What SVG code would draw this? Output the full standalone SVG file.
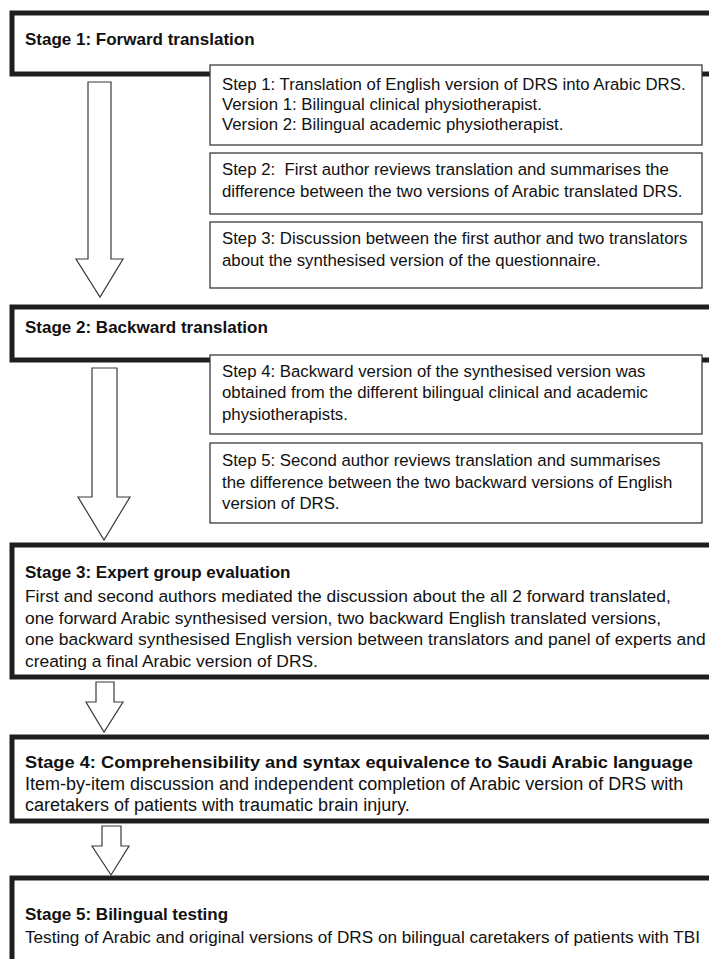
<svg xmlns="http://www.w3.org/2000/svg" width="709" height="959" viewBox="0 0 709 959">
<style>
.stage{fill:#fff;stroke:#1e1e1e;stroke-width:5}
.step{fill:#fff;stroke:#3a3a3a;stroke-width:1.3}
.arrow{fill:#fff;stroke:#3a3a3a;stroke-width:1.2;stroke-linejoin:miter}
text{font-family:"Liberation Sans",Arial,Helvetica,sans-serif;fill:#111}
.t{font-size:17px;font-weight:bold}
.b{font-size:17.4px}
.b4{font-size:18px}
.s{font-size:16.8px}
</style>
<rect width="709" height="959" fill="#fff"/>
<g id="stage1">
<rect class="stage" x="12" y="13" width="720" height="61"/>
<text class="t" x="25" y="45">Stage 1: Forward translation</text>
</g>
<g id="stage2">
<rect class="stage" x="12" y="307" width="720" height="53"/>
<text class="t" x="25" y="333">Stage 2: Backward translation</text>
</g>
<g id="stage3">
<rect class="stage" x="12" y="545" width="720" height="132"/>
<text class="t" x="25" y="578">Stage 3: Expert group evaluation</text>
<text class="b" x="25" y="602">First and second authors mediated the discussion about the all 2 forward translated,</text>
<text class="b" x="25" y="623.5">one forward Arabic synthesised version, two backward English translated versions,</text>
<text class="b" x="25" y="645">one backward synthesised English version between translators and panel of experts and</text>
<text class="b" x="25" y="667">creating a final Arabic version of DRS.</text>
</g>
<g id="stage4">
<rect class="stage" x="12" y="737" width="720" height="84"/>
<text class="t" x="25" y="768" textLength="668" lengthAdjust="spacingAndGlyphs">Stage 4: Comprehensibility and syntax equivalence to Saudi Arabic language</text>
<text class="b4" x="25" y="790">Item-by-item discussion and independent completion of Arabic version of DRS with</text>
<text class="b4" x="25" y="811">caretakers of patients with traumatic brain injury.</text>
</g>
<g id="stage5">
<rect class="stage" x="12" y="878" width="720" height="120"/>
<text class="t" x="25" y="920">Stage 5: Bilingual testing</text>
<text class="b" x="25" y="943" textLength="675" lengthAdjust="spacingAndGlyphs">Testing of Arabic and original versions of DRS on bilingual caretakers of patients with TBI</text>
</g>
<g id="step1">
<rect class="step" x="210" y="65" width="492" height="80"/>
<text class="s" x="222" y="90">Step 1: Translation of English version of DRS into Arabic DRS.</text>
<text class="s" x="222" y="110">Version 1: Bilingual clinical physiotherapist.</text>
<text class="s" x="222" y="130">Version 2: Bilingual academic physiotherapist.</text>
</g>
<g id="step2">
<rect class="step" x="210" y="153" width="492" height="61"/>
<text class="s" x="222" y="175" xml:space="preserve">Step 2:  First author reviews translation and summarises the</text>
<text class="s" x="222" y="197">difference between the two versions of Arabic translated DRS.</text>
</g>
<g id="step3">
<rect class="step" x="210" y="222" width="492" height="66"/>
<text class="s" x="222" y="244">Step 3: Discussion between the first author and two translators</text>
<text class="s" x="222" y="266">about the synthesised version of the questionnaire.</text>
</g>
<g id="step4">
<rect class="step" x="210" y="355" width="492" height="79"/>
<text class="s" x="222" y="377">Step 4: Backward version of the synthesised version was</text>
<text class="s" x="222" y="398">obtained from the different bilingual clinical and academic</text>
<text class="s" x="222" y="420">physiotherapists.</text>
</g>
<g id="step5">
<rect class="step" x="210" y="443" width="492" height="80"/>
<text class="s" x="222" y="466">Step 5: Second author reviews translation and summarises</text>
<text class="s" x="222" y="488">the difference between the two backward versions of English</text>
<text class="s" x="222" y="509">version of DRS.</text>
</g>
<g id="connectors">
<polygon class="arrow" points="88,82 111,82 111,259 123,259 100,297 76,259 88,259"/>
<polygon class="arrow" points="92,368 117,368 117,497 130,497 104,540 78,497 92,497"/>
<polygon class="arrow" points="96,682 114,682 114,702 123,702 104,732 86,702 96,702"/>
<polygon class="arrow" points="102,826 121,826 121,846 129,846 111,875 92,846 102,846"/>
</g>
</svg>
